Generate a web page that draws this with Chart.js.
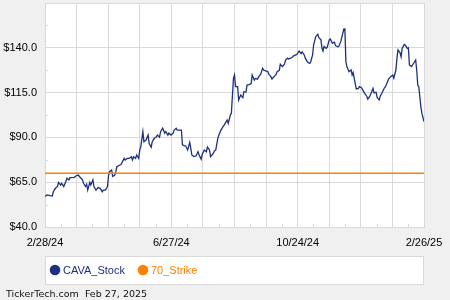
<!DOCTYPE html>
<html>
<head>
<meta charset="utf-8">
<script src="https://cdn.jsdelivr.net/npm/chart.js@4/dist/chart.umd.min.js"></script>
<style>
  html, body { margin: 0; padding: 0; background: #f0f0f0; }
  #wrap { width: 450px; height: 300px; position: relative; }
</style>
</head>
<body>
<div id="wrap"><canvas id="grafica"></canvas></div>
<script>
// datos
const stockLabel = 'CAVA_Stock';
const strikeLabel = '70_Strike';
const strikePrice = 70;
const spanDays = 364; // 2/28/24 -> 2/26/25
const xTickLabels = ['2/28/24', '', '', '', '6/27/24', '', '', '', '10/24/24', '', '', '', '2/26/25'];
const yMin = 40;
const yMax = 165;
const yStep = 25;
const footerText = 'TickerTech.com  Feb 27, 2025';

const days = [0, 2, 5, 7, 8, 10, 12, 13, 15, 16, 18, 20, 21, 23, 24, 28, 30, 32, 33, 36, 37, 39, 40, 41, 43, 44, 46, 47, 49, 51,
  53, 55, 56, 58, 60, 61, 62, 64, 65, 67, 68, 69, 72, 73, 76, 77, 79, 81, 83, 84, 85, 87, 88, 90, 91, 92, 94, 95, 97, 99,
  100, 102, 103, 105, 107, 108, 110, 111, 113, 115, 116, 118, 119, 121, 123, 124, 126, 127, 131, 132, 134, 135, 137, 139, 140, 141, 143, 145, 147, 148,
  150, 151, 153, 155, 156, 158, 159, 161, 163, 164, 166, 167, 169, 171, 172, 174, 175, 176, 178, 179, 181, 182, 183, 185, 186, 188, 190, 191, 193, 194,
  196, 198, 199, 201, 202, 204, 206, 207, 209, 210, 212, 214, 215, 217, 218, 220, 222, 223, 225, 226, 228, 230, 231, 233, 234, 236, 238, 239, 241, 242,
  244, 246, 247, 249, 250, 252, 254, 255, 257, 258, 260, 262, 263, 265, 266, 267, 268, 270, 271, 273, 274, 276, 278, 279, 281, 282, 284, 286, 287, 288,
  289, 290, 292, 294, 295, 296, 297, 299, 301, 302, 304, 305, 307, 309, 310, 312, 313, 315, 316, 318, 319, 321, 322, 324, 326, 327, 329, 330, 332, 334,
  335, 337, 338, 339, 341, 342, 343, 345, 346, 348, 349, 350, 352, 353, 355, 356, 357, 358, 359, 360, 361, 362, 364];

const prices = [57, 57.9, 57.5, 57.3, 59.7, 61.6, 62.6, 64.9, 63.4, 64.4, 62.6, 65.4, 67.2, 66.3, 67.5, 67.7, 68.6, 69.0, 68.2, 66.3, 64.4, 62.6, 63.9, 60.6, 64.9, 63.4, 66.3, 62.6, 60.6, 62,
  61.6, 59.7, 60.6, 60.6, 62.6, 68.6, 70.9, 71.8, 68.2, 69, 70.9, 73.6, 74.6, 74.9, 78.3, 77.4, 78.3, 78.3, 79.2, 77.4, 79.2, 78.3, 80.2, 78.3, 83, 84.8, 93.2, 87.6, 88.5, 91.3,
  86.7, 84.5, 87.6, 89.5, 90.4, 91.3, 90.1, 93.2, 95.1, 92.4, 93.2, 91.3, 92.4, 91.3, 92.4, 94.1, 95.1, 94.1, 94.1, 85.8, 85.3, 85.3, 83, 87.2, 84, 80.2, 79.3, 79.6, 82, 80.2,
  77.8, 80.6, 83, 82, 84.6, 83, 79.3, 80.6, 82.6, 83, 89.5, 91.3, 94.1, 96.0, 96.9, 98.8, 99.7, 97.8, 102.5, 103.4, 123, 124.8, 118.3, 118.3, 110.9, 113.7, 112.2, 115.5, 115.3, 119.2,
  119.5, 120, 124.8, 122, 122.9, 122.5, 124.6, 125, 128.6, 127.6, 127.1, 126.7, 125.2, 123.9, 122.6, 123.9, 125.2, 126.7, 127.4, 130.8, 129.5, 130.8, 133.2, 134.2, 133.8, 134.2, 135.0, 135.6, 136, 136.4,
  138.2, 136.8, 137.7, 136, 134.2, 132.2, 131.3, 131.7, 136, 141.6, 146.2, 147.5, 145.6, 144.4, 139.7, 138.2, 140.7, 139.7, 140.2, 144.4, 144.9, 142.6, 143.1, 141.2, 140.6, 140.6, 143.3, 148.1, 150.5, 150.5,
  132.2, 129.4, 126.7, 127.6, 124.8, 126.2, 123, 117, 117.3, 118.3, 117.7, 116.7, 114.6, 113, 111.4, 113, 114.3, 117.3, 114.8, 115.2, 112.3, 110.9, 113, 115.2, 117.7, 118.3, 121.1, 122.6, 123.9, 124.8,
  123, 127.6, 134.1, 138.8, 137.2, 135, 139.7, 141.9, 141.5, 139.7, 140, 130.4, 129.5, 130.4, 132.2, 133.2, 127.6, 119.2, 118.3, 112.7, 107.1, 103.4, 98.8];

const stockColor = '#1d3080';
const strikeColor = '#ff8000';
const gridColor = '#d9d9d9';
const tickFont = { family: '"Liberation Sans", Arial, sans-serif', size: 11 };

// fondo blanco del area, ticks menores, leyenda y pie
const marco = {
  id: 'marco',
  beforeDraw(chart) {
    const { ctx, chartArea: a } = chart;
    ctx.save();
    ctx.fillStyle = '#ffffff';
    ctx.fillRect(a.left, a.top, a.right - a.left, a.bottom - a.top);
    ctx.restore();
  },
  afterDraw(chart) {
    const { ctx, chartArea: a, scales } = chart;
    ctx.save();
    ctx.strokeStyle = gridColor;
    ctx.lineWidth = 1;
    ctx.beginPath();
    const xt = scales.x.ticks;
    for (let i = 0; i < xt.length - 1; i++) {
      const px = Math.round((scales.x.getPixelForValue(xt[i].value) + scales.x.getPixelForValue(xt[i + 1].value)) / 2) + 0.5;
      ctx.moveTo(px, a.bottom);
      ctx.lineTo(px, a.bottom - 3);
    }
    const yt = scales.y.ticks;
    for (let i = 0; i < yt.length - 1; i++) {
      const py = Math.round((scales.y.getPixelForValue(yt[i].value) + scales.y.getPixelForValue(yt[i + 1].value)) / 2) + 0.5;
      ctx.moveTo(a.left, py);
      ctx.lineTo(a.left + 3, py);
    }
    ctx.stroke();

    // caja de leyenda
    const boxTop = a.bottom + 29;
    const boxH = 29;
    ctx.fillStyle = '#ffffff';
    ctx.fillRect(a.left, boxTop, a.right - a.left, boxH);
    ctx.strokeStyle = gridColor;
    ctx.strokeRect(Math.round(a.left) + 0.5, boxTop + 0.5, Math.round(a.right - a.left) - 1, boxH - 1);

    ctx.font = '11px "Liberation Sans", Arial, sans-serif';
    ctx.textBaseline = 'middle';
    const items = [[stockLabel, stockColor], [strikeLabel, strikeColor]];
    let x = a.left + 10;
    const cy = boxTop + boxH / 2 - 0.5;
    items.forEach(([txt, col]) => {
      ctx.fillStyle = col;
      ctx.beginPath();
      ctx.arc(x, cy, 5.3, 0, Math.PI * 2);
      ctx.fill();
      ctx.fillText(txt, x + 8, cy + 1);
      x += 8 + ctx.measureText(txt).width + 18;
    });

    // pie
    ctx.fillStyle = '#111111';
    ctx.textBaseline = 'alphabetic';
    ctx.font = '9.5px "DejaVu Sans", Verdana, sans-serif';
    ctx.fillText(footerText, 6, 296.5);
    ctx.restore();
  }
};

const ctx = document.getElementById('grafica').getContext('2d');
const chart = new Chart(ctx, {
  type: 'line',
  data: {
    datasets: [
      {
        label: stockLabel,
        data: days.map((d, i) => ({ x: d, y: prices[i] })),
        borderColor: stockColor,
        borderWidth: 1.3,
        pointRadius: 0,
        fill: false,
        order: 1
      },
      {
        label: strikeLabel,
        data: [{ x: 0, y: strikePrice }, { x: spanDays, y: strikePrice }],
        borderColor: strikeColor,
        borderWidth: 1.5,
        pointRadius: 0,
        fill: false,
        order: 0
      }
    ]
  },
  options: {
    responsive: true,
    maintainAspectRatio: false,
    animation: false,
    layout: { padding: { top: 3, right: 26, left: 0, bottom: 0 } },
    plugins: { legend: { display: false }, tooltip: { enabled: false } },
    scales: {
      x: {
        type: 'linear',
        min: 0,
        max: spanDays,
        afterBuildTicks: s => { s.ticks = xTickLabels.map((_, i) => ({ value: i * spanDays / (xTickLabels.length - 1) })); },
        afterFit: s => { s.height = 73; s.paddingLeft = 0; s.paddingRight = 0; },
        grid: { color: gridColor, drawTicks: false },
        border: { color: gridColor },
        ticks: {
          autoSkip: false,
          maxRotation: 0,
          padding: 9,
          color: '#000',
          font: tickFont,
          callback: (v, i) => xTickLabels[i]
        }
      },
      y: {
        min: yMin,
        max: yMax,
        afterFit: s => { s.width = 45; s.paddingTop = 0; s.paddingBottom = 0; },
        grid: { color: gridColor, drawTicks: false },
        border: { color: gridColor },
        ticks: {
          stepSize: yStep,
          padding: 8,
          color: '#000',
          font: tickFont,
          callback: v => (v === yMax ? '' : '$' + v.toFixed(1))
        }
      }
    }
  },
  plugins: [marco]
});
</script>
</body>
</html>
